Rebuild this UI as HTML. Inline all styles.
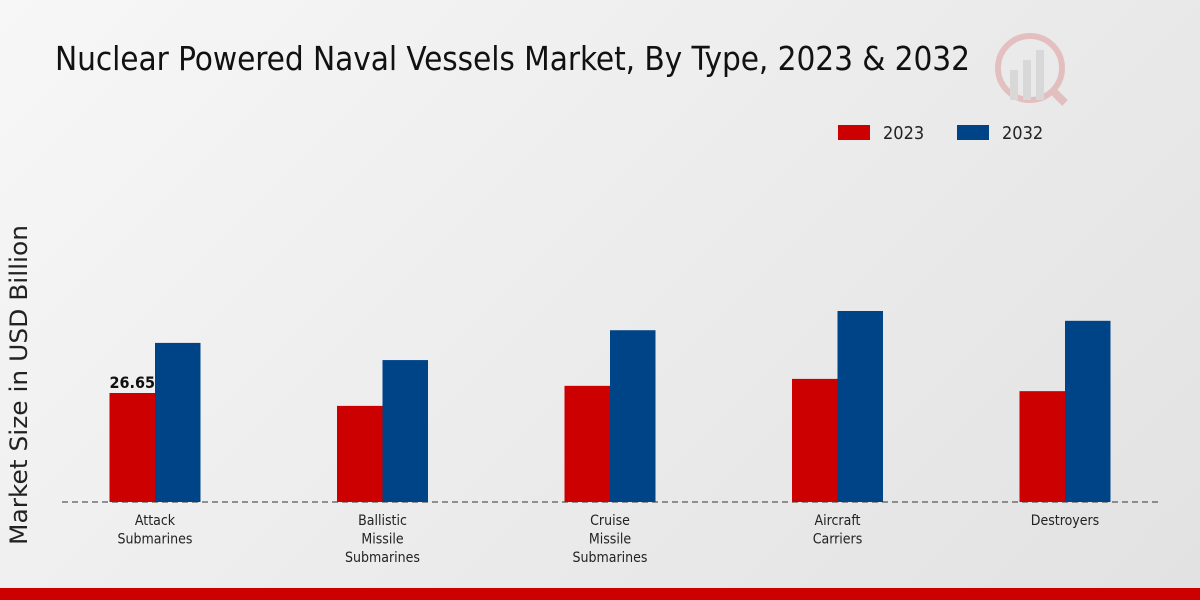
<!DOCTYPE html>
<html><head><meta charset="utf-8"><style>
html,body{margin:0;padding:0}
body{width:1200px;height:600px;overflow:hidden;background:linear-gradient(135deg,#f7f7f7 0%,#ececec 50%,#e2e2e2 100%);font-family:"DejaVu Sans Condensed","DejaVu Sans","Liberation Sans",sans-serif;font-stretch:condensed;position:relative}
</style></head><body>
<svg width="1200" height="600" style="position:absolute;left:0;top:0">
<text x="55" y="70" font-size="33" fill="#111" font-family="DejaVu Sans Condensed, DejaVu Sans, sans-serif" textLength="915">Nuclear Powered Naval Vessels Market, By Type, 2023 &amp; 2032</text>
<g opacity="0.18">
<circle cx="1030" cy="68" r="32" fill="none" stroke="#c00" stroke-width="6"/>
<rect x="1010" y="70" width="8" height="30" fill="#888"/><rect x="1023" y="60" width="8" height="40" fill="#888"/><rect x="1036" y="50" width="8" height="50" fill="#888"/>
<line x1="1052" y1="90" x2="1065" y2="103" stroke="#c00" stroke-width="8"/>
</g>
<rect x="838" y="125" width="32" height="15" fill="#cc0000"/>
<text x="883" y="139" font-size="18" fill="#222">2023</text>
<rect x="957" y="125" width="32" height="15" fill="#004488"/>
<text x="1002" y="139" font-size="18" fill="#222">2032</text>
<text transform="translate(27,385) rotate(-90)" text-anchor="middle" font-size="24" fill="#222" font-family="DejaVu Sans, sans-serif" style="font-stretch:normal" textLength="320" lengthAdjust="spacingAndGlyphs">Market Size in USD Billion</text>
<line x1="62" y1="502" x2="1160" y2="502" stroke="#333" stroke-width="1" stroke-dasharray="6,4"/>
<g id="bars"></g>
<g id="labels"></g>
<rect x="0" y="588" width="1200" height="12" fill="#cc0000"/>
</svg>
<script>
const categories=[["Attack","Submarines"],["Ballistic","Missile","Submarines"],["Cruise","Missile","Submarines"],["Aircraft","Carriers"],["Destroyers"]];
const values2023=[26.65,23.5,28.4,30.1,27.1];
const values2032=[38.9,34.7,42.0,46.7,44.3];
const ns="http://www.w3.org/2000/svg";
const baseY=502, scale=109/26.65;
function xc(i){return 155+i*227.5;}
function yv(v){return baseY-v*scale;}
const bars=document.getElementById('bars'), labels=document.getElementById('labels');
function bar(x,v,color){
  const r=document.createElementNS(ns,'rect');
  r.setAttribute('x',x);r.setAttribute('y',yv(v));r.setAttribute('width',45.5);r.setAttribute('height',baseY-yv(v));r.setAttribute('fill',color);
  
  bars.appendChild(r);
}
categories.forEach((c,i)=>{
  bar(xc(i)-45.5,values2023[i],'#cc0000');
  
  bar(xc(i),values2032[i],'#004488');
  
  c.forEach((line,k)=>{
    const t=document.createElementNS(ns,'text');
    t.setAttribute('x',xc(i));t.setAttribute('y',525+k*18.5);t.setAttribute('text-anchor','middle');t.setAttribute('font-size','14');t.setAttribute('fill','#222');
    t.textContent=line;
    
    
    labels.appendChild(t);
  });
});
const vl=document.createElementNS(ns,'text');
vl.setAttribute('x',xc(0)-22.75);vl.setAttribute('y',yv(values2023[0])-5);vl.setAttribute('text-anchor','middle');vl.setAttribute('font-size','16');vl.setAttribute('font-weight','bold');vl.setAttribute('fill','#111');
vl.textContent=values2023[0].toFixed(2);


labels.appendChild(vl);
</script>
</body></html>
